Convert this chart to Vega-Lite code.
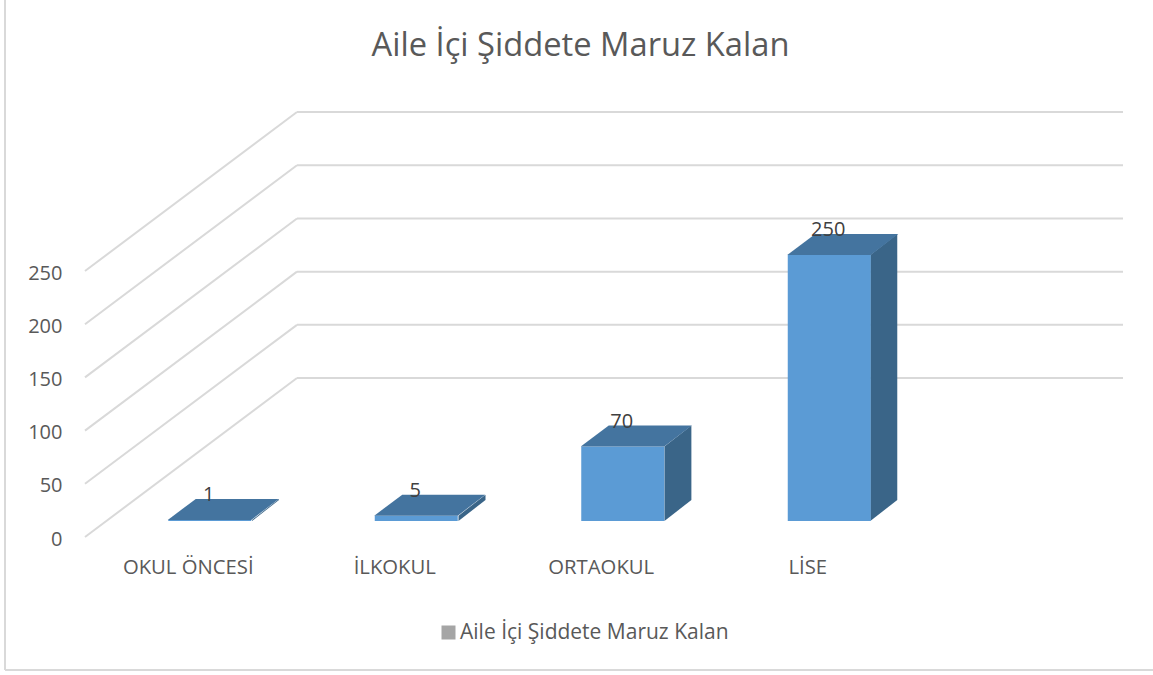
{
"$schema":"https://vega.github.io/schema/vega-lite/v6.json",
"width":1153,"height":675,"padding":0,"autosize":{"type":"none"},
"background":"white",
"config":{"view":{"stroke":null},"font":"Open Sans"},
"title":{"text":"Aile İçi Şiddete Maruz Kalan","fontSize":32.7,"font":"Open Sans","fontWeight":"normal","color":"#595959","anchor":"middle","dx":4,"offset":-90,"baseline":"alphabetic"},
"datasets":{
"bars":[
{"category":"OKUL ÖNCESİ","value":1,"series":"Aile İçi Şiddete Maruz Kalan"},
{"category":"İLKOKUL","value":5,"series":"Aile İçi Şiddete Maruz Kalan"},
{"category":"ORTAOKUL","value":70,"series":"Aile İçi Şiddete Maruz Kalan"},
{"category":"LİSE","value":250,"series":"Aile İçi Şiddete Maruz Kalan"}],
"sides":[
{"category":"OKUL ÖNCESİ","slot":0.8087,"top":16.04,"bottom":15.04},
{"category":"OKUL ÖNCESİ","slot":0.9395,"top":35.78,"bottom":34.78},
{"category":"İLKOKUL","slot":1.8087,"top":20.04,"bottom":15.04},
{"category":"İLKOKUL","slot":1.9395,"top":39.78,"bottom":34.78},
{"category":"ORTAOKUL","slot":2.806,"top":85.04,"bottom":15.04},
{"category":"ORTAOKUL","slot":2.9365,"top":104.78,"bottom":34.78},
{"category":"LİSE","slot":3.803,"top":265.04,"bottom":15.04},
{"category":"LİSE","slot":3.9335,"top":284.78,"bottom":34.78}],
"grid":[
{"tick":0,"rear":149.4},{"tick":50,"rear":199.4},{"tick":100,"rear":249.4},
{"tick":150,"rear":299.4},{"tick":200,"rear":349.4},{"tick":250,"rear":399.4}]
},
"encoding":{},
"layer":[
{"layer":[
{"data":{"values":[{"a":0}]},"mark":{"type":"rule","color":"#d9d9d9","strokeWidth":2},
 "encoding":{"x":{"value":5},"y":{"value":0},"y2":{"value":670}}},
{"data":{"values":[{"a":0}]},"mark":{"type":"rule","color":"#d9d9d9","strokeWidth":2},
 "encoding":{"x":{"value":5},"x2":{"value":1153},"y":{"value":670}}},
{"data":{"name":"grid"},"mark":{"type":"rule","color":"#d9d9d9","strokeWidth":2},
 "encoding":{
  "x":{"datum":0,"type":"quantitative","scale":{"domain":[0,4],"range":[85,911]},"axis":null},
  "x2":{"datum":1.0266},
  "y":{"field":"tick","type":"quantitative","scale":{"domain":[0,250],"range":[537,271],"nice":false},
       "axis":{"orient":"left","offset":-65,"values":[0,50,100,150,200,250],"domain":false,"ticks":false,"grid":false,"title":null,"labelFontSize":20,"labelColor":"#595959","labelFont":"Open Sans","labelPadding":3,"labelOffset":2}},
  "y2":{"field":"rear"}}},
{"data":{"name":"grid"},"mark":{"type":"rule","color":"#d9d9d9","strokeWidth":2},
 "encoding":{
  "x":{"datum":1.0266,"type":"quantitative","scale":{"domain":[0,4],"range":[85,911]},"axis":null},
  "x2":{"datum":5.0266},
  "y":{"field":"rear","type":"quantitative","scale":{"domain":[0,250],"range":[537,271],"nice":false}}}},
{"data":{"name":"sides"},"mark":{"type":"area","color":"#3a6588","opacity":1,"orient":"vertical"},
 "encoding":{
  "x":{"field":"slot","type":"quantitative","scale":{"domain":[0,4],"range":[85,911]},"axis":null},
  "y":{"field":"top","type":"quantitative","stack":null,"scale":{"domain":[0,250],"range":[537,271],"nice":false}},
  "y2":{"field":"bottom"},
  "detail":{"field":"category"}}}
]},
{"layer":[
{"data":{"name":"bars"},"mark":{"type":"bar","opacity":0},
 "encoding":{
  "x":{"field":"category","type":"nominal","sort":null,"scale":{"type":"band","range":[85,911],"paddingInner":0.596,"paddingOuter":0.298},
       "axis":{"orient":"bottom","offset":-118,"domain":false,"ticks":false,"grid":false,"title":null,"labelAngle":0,"labelFontSize":20.3,"labelColor":"#595959","labelFont":"Open Sans","labelPadding":0}},
  "y":{"field":"value","type":"quantitative","stack":null,"scale":{"domain":[0,250],"range":[537,271],"nice":false}},
  "color":{"field":"series","type":"nominal","scale":{"range":["#a5a5a5"]},
    "legend":{"orient":"none","legendX":438,"legendY":622,"title":null,"symbolType":"square","symbolSize":196,"symbolOpacity":1,"labelFontSize":21,"labelColor":"#595959","labelFont":"Open Sans","labelOffset":1,"labelLimit":400}}}},
{"data":{"name":"bars"},"mark":{"type":"bar","color":"#5b9bd5","width":83,"xOffset":21.5,"yOffset":-16},
 "encoding":{
  "x":{"field":"category","type":"nominal","sort":null},
  "y":{"field":"value","type":"quantitative","stack":null,"scale":{"domain":[0,250],"range":[537,271],"nice":false}},
  "y2":{"datum":15.04}}},
{"data":{"name":"bars"},"mark":{"type":"point","filled":true,"opacity":1,"color":"#44749f","size":4,"shape":"M-42,0L41.5,0L69,-21L-14,-21Z","xOffset":21.5,"yOffset":-16},
 "encoding":{
  "x":{"field":"category","type":"nominal","sort":null},
  "y":{"field":"value","type":"quantitative","scale":{"domain":[0,250],"range":[537,271],"nice":false}}}},
{"data":{"name":"bars"},"mark":{"type":"text","color":"#404040","fontSize":20,"font":"Open Sans","dx":20.5,"dy":-41},
 "encoding":{
  "x":{"field":"category","type":"nominal","sort":null},
  "y":{"field":"value","type":"quantitative","scale":{"domain":[0,250],"range":[537,271],"nice":false}},
  "text":{"field":"value","type":"quantitative"}}}
]}
],
"resolve":{"scale":{"x":"independent"}}
}
